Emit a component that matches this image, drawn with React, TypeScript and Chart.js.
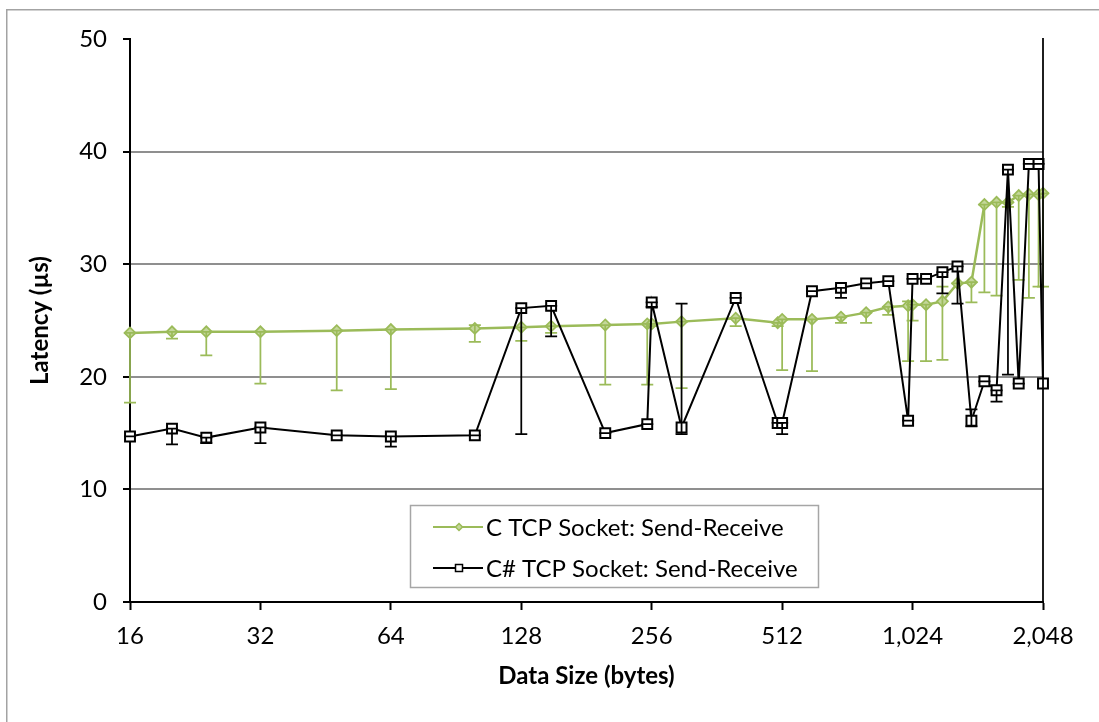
import { useEffect, useRef } from "react";
import { Chart, registerables } from "chart.js";

Chart.register(...registerables);

// Message sizes in bytes (x axis, log2 spaced)
const dataSizes = [16, 20, 24, 32, 48, 64, 100, 128, 150, 200, 250, 256, 300, 400, 500, 512, 600, 700, 800, 900, 1000, 1024, 1100, 1200, 1300, 1400, 1500, 1600, 1700, 1800, 1900, 2000, 2048];

// C TCP socket round trip latency (µs) with error-bar bounds
const cLatency = [23.9, 24.0, 24.0, 24.0, 24.1, 24.2, 24.3, 24.4, 24.5, 24.6, 24.7, 24.7, 24.9, 25.2, 24.8, 25.1, 25.1, 25.3, 25.7, 26.2, 26.3, 26.4, 26.4, 26.7, 28.3, 28.4, 35.3, 35.5, 35.5, 36.1, 36.2, 36.2, 36.3];
const cLower = [17.7, 23.4, 21.9, 19.4, 18.8, 18.9, 23.1, 23.2, 23.9, 19.3, 19.3, 24.5, 19.0, 24.5, 24.5, 20.6, 20.5, 24.8, 24.8, 25.5, 21.4, 25.0, 21.4, 21.5, 28.3, 26.6, 27.5, 27.2, 35.1, 28.6, 27.0, 28.0, 28.0];
const cUpper = [23.9, 24.0, 24.0, 24.0, 24.1, 24.2, 24.6, 24.4, 24.5, 24.6, 24.7, 24.7, 24.9, 25.2, 24.8, 25.1, 25.1, 25.3, 25.7, 26.2, 26.7, 26.4, 26.4, 28.0, 28.3, 28.4, 35.3, 35.5, 35.5, 36.1, 36.2, 36.2, 36.3];

// C# TCP socket round trip latency (µs) with error-bar bounds
const csLatency = [14.7, 15.4, 14.6, 15.5, 14.8, 14.7, 14.8, 26.1, 26.3, 15.0, 15.8, 26.6, 15.5, 27.0, 15.9, 15.9, 27.6, 27.9, 28.3, 28.5, 16.1, 28.7, 28.7, 29.3, 29.8, 16.1, 19.6, 18.8, 38.4, 19.4, 38.9, 38.9, 19.4];
const csLower = [14.7, 14.0, 14.1, 14.1, 14.8, 13.8, 14.8, 14.9, 23.6, 15.0, 15.8, 26.2, 14.9, 27.0, 15.9, 14.9, 27.6, 27.0, 28.3, 28.5, 16.1, 28.7, 28.7, 27.4, 26.5, 15.6, 19.6, 17.8, 20.2, 19.4, 38.9, 38.9, -5];
const csUpper = [14.7, 15.4, 14.6, 15.5, 14.8, 14.7, 14.8, 26.1, 26.3, 15.0, 15.8, 26.6, 26.5, 27.0, 15.9, 15.9, 27.6, 27.9, 28.3, 28.5, 16.1, 28.7, 28.7, 29.3, 29.8, 17.1, 19.6, 18.8, 38.4, 19.4, 38.9, 38.9, 55];

const seriesNames = ["C TCP Socket: Send-Receive", "C# TCP Socket: Send-Receive"];
const xTickValues = [16, 32, 64, 128, 256, 512, 1024, 2048];
const yMin = 0;
const yMax = 50;
const yStep = 10;

const GREEN = "#9bbb59";
const GREEN_FILL = "#c4d79b";
const FONT = "Lato, 'Open Sans', sans-serif";

function diamond(ctx: CanvasRenderingContext2D, x: number, y: number, r: number) {
  ctx.beginPath();
  ctx.moveTo(x, y - r);
  ctx.lineTo(x + r, y);
  ctx.lineTo(x, y + r);
  ctx.lineTo(x - r, y);
  ctx.closePath();
}

// Vertical error bars with caps, drawn right after each line dataset
const errorBarPlugin = {
  id: "errorBars",
  afterDatasetDraw(chart: any, args: any) {
    const ds = chart.data.datasets[args.index];
    const bars = ds.errorBars;
    if (!bars) return;
    const { ctx, chartArea } = chart;
    const xs = chart.scales.x;
    const ys = chart.scales.y;
    const cap = 6;
    ctx.save();
    ctx.beginPath();
    ctx.rect(0, chartArea.top - 1, chart.width, chartArea.bottom - chartArea.top + 2);
    ctx.clip();
    ctx.strokeStyle = ds.borderColor;
    ctx.lineWidth = 1.75;
    ds.data.forEach((pt: any, i: number) => {
      const px = xs.getPixelForValue(pt.x);
      const lo = ys.getPixelForValue(bars.lower[i]);
      const hi = ys.getPixelForValue(bars.upper[i]);
      ctx.beginPath();
      ctx.moveTo(px, lo);
      ctx.lineTo(px, hi);
      ctx.moveTo(px - cap, lo);
      ctx.lineTo(px + cap, lo);
      ctx.moveTo(px - cap, hi);
      ctx.lineTo(px + cap, hi);
      ctx.stroke();
    });
    ctx.restore();
  },
};

// White page with the light grey chart frame
const framePlugin = {
  id: "frame",
  beforeDraw(chart: any) {
    const { ctx } = chart;
    ctx.save();
    ctx.fillStyle = "#ffffff";
    ctx.fillRect(0, 0, chart.width, chart.height);
    ctx.strokeStyle = "#a3a3a3";
    ctx.lineWidth = 1.5;
    ctx.strokeRect(6.75, 9.75, chart.width + 50, chart.height + 50);
    ctx.restore();
  },
};

// Boxed legend inside the plot area
const legendPlugin = {
  id: "boxLegend",
  afterDraw(chart: any) {
    const { ctx, chartArea } = chart;
    const left = chartArea.left + 280;
    const top = chartArea.top + 466;
    const w = 408;
    const h = 82;
    ctx.save();
    ctx.fillStyle = "#ffffff";
    ctx.fillRect(left, top, w, h);
    ctx.strokeStyle = "#a6a6a6";
    ctx.lineWidth = 1.5;
    ctx.strokeRect(left + 0.5, top + 0.5, w, h);
    chart.data.datasets.forEach((ds: any, i: number) => {
      const cy = top + 22 + i * 41;
      ctx.strokeStyle = ds.borderColor;
      ctx.lineWidth = 2;
      ctx.beginPath();
      ctx.moveTo(left + 23, cy);
      ctx.lineTo(left + 73, cy);
      ctx.stroke();
      const mx = left + 49;
      ctx.lineWidth = 1.5;
      if (ds.pointStyle === "rectRot") {
        diamond(ctx, mx, cy, 3.5);
        ctx.fillStyle = ds.pointBackgroundColor;
        ctx.fill();
        ctx.stroke();
      } else {
        ctx.fillStyle = "#ffffff";
        ctx.fillRect(mx - 3.5, cy - 3.5, 7, 7);
        ctx.strokeRect(mx - 3.5, cy - 3.5, 7, 7);
      }
      ctx.fillStyle = "#000000";
      ctx.font = `24px ${FONT}`;
      ctx.textBaseline = "middle";
      ctx.textAlign = "left";
      ctx.fillText(ds.label, left + 76, cy + 1);
    });
    ctx.restore();
  },
};

export default function App() {
  const canvasRef = useRef<HTMLCanvasElement>(null);

  useEffect(() => {
    const canvas = canvasRef.current;
    if (!canvas) return;
    const chart = new Chart(canvas, {
      type: "line",
      data: {
        datasets: [
          {
            label: seriesNames[0],
            data: dataSizes.map((s, i) => ({ x: s, y: cLatency[i] })),
            borderColor: GREEN,
            borderWidth: 2.5,
            pointStyle: "rectRot",
            pointRadius: 5.5,
            pointBackgroundColor: GREEN_FILL,
            pointBorderColor: GREEN,
            pointBorderWidth: 1.75,
            tension: 0,
            clip: false,
            order: 2,
            errorBars: { lower: cLower, upper: cUpper },
          } as any,
          {
            label: seriesNames[1],
            data: dataSizes.map((s, i) => ({ x: s, y: csLatency[i] })),
            borderColor: "#000000",
            borderWidth: 2,
            pointStyle: "rect",
            pointRadius: 7,
            pointBackgroundColor: "#ffffff",
            pointBorderColor: "#000000",
            pointBorderWidth: 2,
            tension: 0,
            clip: false,
            order: 1,
            errorBars: { lower: csLower, upper: csUpper },
          } as any,
        ],
      },
      options: {
        responsive: false,
        animation: false,
        layout: { padding: { top: 39, right: 56, left: 0, bottom: 0 } },
        plugins: {
          legend: { display: false },
          tooltip: { enabled: false },
        },
        scales: {
          x: {
            type: "logarithmic",
            min: xTickValues[0],
            max: xTickValues[xTickValues.length - 1],
            afterBuildTicks: (scale: any) => {
              scale.ticks = xTickValues.map((v) => ({ value: v }));
            },
            afterFit: (scale: any) => {
              scale.height = 120;
            },
            ticks: {
              autoSkip: false,
              maxRotation: 0,
              padding: 12,
              color: "#000000",
              font: { family: FONT, size: 24 },
              callback: (v: any) => Number(v).toLocaleString("en-US"),
            },
            grid: {
              drawOnChartArea: false,
              drawTicks: true,
              tickLength: 8,
              tickColor: "#000000",
              tickWidth: 2,
            },
            border: { display: true, color: "#000000", width: 2 },
            title: {
              display: true,
              text: "Data Size (bytes)",
              color: "#000000",
              font: { family: FONT, size: 24, weight: "bold" },
              padding: { top: 0, bottom: 31 },
            },
          } as any,
          y: {
            min: yMin,
            max: yMax,
            afterFit: (scale: any) => {
              scale.width = 130;
            },
            ticks: {
              stepSize: yStep,
              padding: 16,
              color: "#000000",
              font: { family: FONT, size: 24 },
            },
            grid: {
              color: (c: any) =>
                c.tick && (c.tick.value === yMax || c.tick.value === yMin) ? "rgba(0,0,0,0)" : "#8f8f8f",
              lineWidth: 2,
              drawTicks: true,
              tickLength: 7,
              tickColor: "#000000",
              tickWidth: 2,
            },
            border: { display: true, color: "#000000", width: 2 },
            title: {
              display: true,
              text: "Latency (µs)",
              color: "#000000",
              font: { family: FONT, size: 24, weight: "bold" },
              padding: { top: 26, bottom: 0 },
            },
          },
        },
      } as any,
      plugins: [framePlugin, errorBarPlugin, legendPlugin],
    });
    return () => chart.destroy();
  }, []);

  return (
    <div
      style={{
        position: "fixed",
        left: 0,
        top: 0,
        width: 1099,
        height: 722,
        overflow: "hidden",
        background: "#ffffff",
      }}
    >
      <canvas ref={canvasRef} width={1099} height={722} style={{ display: "block" }} />
    </div>
  );
}
